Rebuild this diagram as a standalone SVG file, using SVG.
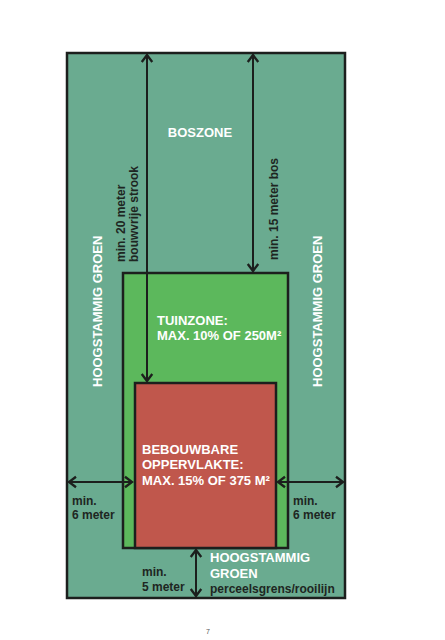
<svg xmlns="http://www.w3.org/2000/svg" width="445" height="640" viewBox="0 0 445 640">
<defs>
<style>
.zone{stroke:#1c1f1d;stroke-width:2.5}
.conn{stroke:#1c1f1d;stroke-width:2;fill:none}
.w{font-family:"Liberation Sans",Arial,sans-serif;font-weight:bold;font-size:13px;fill:#ffffff}
.d{font-family:"Liberation Sans",Arial,sans-serif;font-weight:bold;font-size:12px;fill:#1e2622}
</style>
<marker id="ah" markerUnits="userSpaceOnUse" markerWidth="14" markerHeight="14" viewBox="-8 -6 10 12" refX="0" refY="0" orient="auto-start-reverse">
<path d="M-6,-4.5 L0,0 L-6,4.5" fill="none" stroke="#1c1f1d" stroke-width="2"/>
</marker>
</defs>
<rect width="445" height="640" fill="#ffffff"/>
<g id="boszone">
<rect class="zone" x="67" y="53" width="278" height="545" fill="#6aab90"/>
<text class="w" x="200" y="137" text-anchor="middle">BOSZONE</text>
<text class="w" transform="translate(101.5,387) rotate(-90)">HOOGSTAMMIG GROEN</text>
<text class="w" transform="translate(322,387) rotate(-90)">HOOGSTAMMIG GROEN</text>
</g>
<g id="tuinzone">
<rect class="zone" x="123" y="273" width="165" height="275" fill="#5cb85c"/>
<text class="w" x="157" y="325">TUINZONE:</text>
<text class="w" x="157" y="340">MAX. 10% OF 250M²</text>
</g>
<g id="bebouwbaar">
<rect class="zone" x="135" y="383" width="141" height="165" fill="#c0574c"/>
<text class="w" x="142" y="454">BEBOUWBARE</text>
<text class="w" x="142" y="469">OPPERVLAKTE:</text>
<text class="w" x="142" y="485">MAX. 15% OF 375 M²</text>
</g>
<g id="connectors">
<line class="conn" x1="147" y1="55" x2="147" y2="381" marker-start="url(#ah)" marker-end="url(#ah)"/>
<line class="conn" x1="253" y1="55" x2="253" y2="271" marker-start="url(#ah)" marker-end="url(#ah)"/>
<line class="conn" x1="69" y1="482" x2="132" y2="482" marker-start="url(#ah)" marker-end="url(#ah)"/>
<line class="conn" x1="278" y1="482" x2="343" y2="482" marker-start="url(#ah)" marker-end="url(#ah)"/>
<line class="conn" x1="196" y1="550" x2="196" y2="596" marker-start="url(#ah)" marker-end="url(#ah)"/>
</g>
<g id="labels">
<text class="d" transform="translate(125,262) rotate(-90)">min. 20 meter</text>
<text class="d" transform="translate(138,262) rotate(-90)">bouwvrije strook</text>
<text class="d" transform="translate(278,260) rotate(-90)">min. 15 meter bos</text>
<text class="d" x="72" y="505">min.</text>
<text class="d" x="72" y="519">6 meter</text>
<text class="d" x="293" y="505">min.</text>
<text class="d" x="293" y="519">6 meter</text>
<text class="d" x="142" y="576">min.</text>
<text class="d" x="142" y="591">5 meter</text>
<text class="w" x="210" y="562">HOOGSTAMMIG</text>
<text class="w" x="210" y="578">GROEN</text>
<text class="d" x="210" y="593">perceelsgrens/rooilijn</text>
</g>
<text x="208" y="634" text-anchor="middle" font-family="Liberation Sans, Arial, sans-serif" font-size="7" fill="#555555">7</text>
</svg>
